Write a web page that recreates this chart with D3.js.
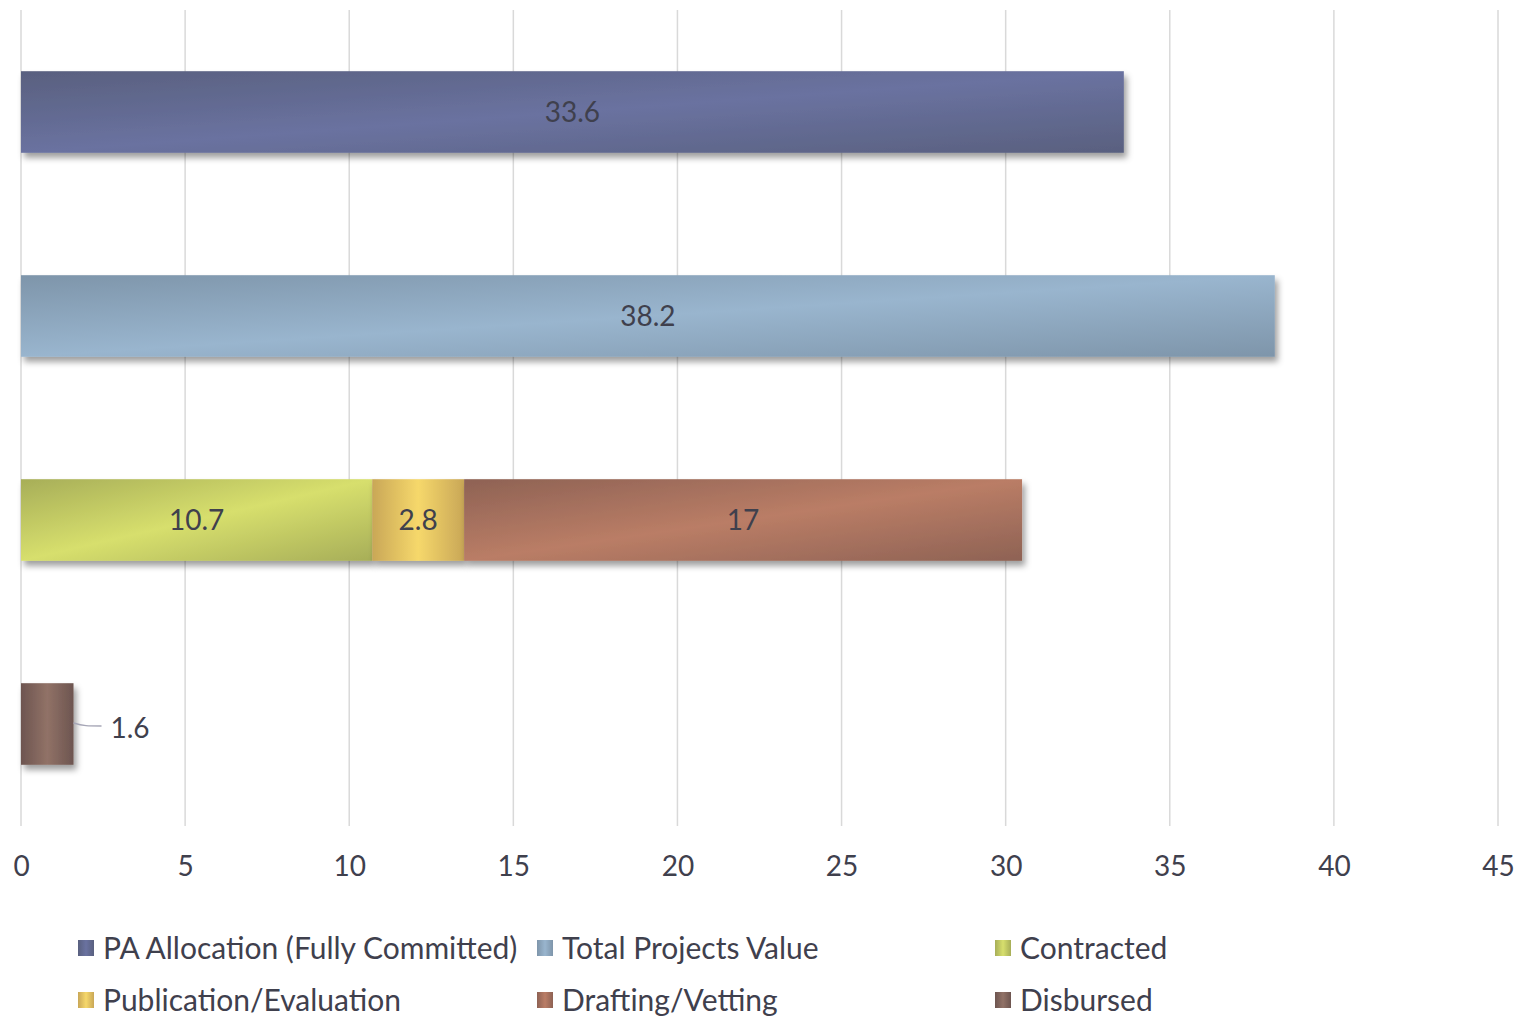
<!DOCTYPE html>
<html>
<head>
<meta charset="utf-8">
<script src="https://cdn.jsdelivr.net/npm/d3@7"></script>
<style>
  html, body { margin: 0; padding: 0; background: #ffffff; }
  svg { display: block; }
  text { font-family: "Lato", "Open Sans", sans-serif; fill: #3f404d; }
</style>
</head>
<body>
<svg id="chart" width="1518" height="1017"></svg>
<script>
// ---- Data ----
const categories = ["PA Allocation", "Total Projects", "Status", "Disbursed"];
const seriesNames = ["PA Allocation (Fully Committed)", "Total Projects Value", "Contracted", "Publication/Evaluation", "Drafting/Vetting", "Disbursed"];
const paAllocation = [33.6, 0, 0, 0];
const totalProjectsValue = [0, 38.2, 0, 0];
const contracted = [0, 0, 10.7, 0];
const publicationEvaluation = [0, 0, 2.8, 0];
const draftingVetting = [0, 0, 17, 0];
const disbursed = [0, 0, 0, 1.6];
const xTicks = [0, 5, 10, 15, 20, 25, 30, 35, 40, 45];

// colours: [dark, light]
const seriesColors = [
  ["#59607f", "#6a72a0"],
  ["#7e95aa", "#99b5ce"],
  ["#a7ae58", "#d7df6d"],
  ["#c9a757", "#f6d86b"],
  ["#8e6254", "#ba7d66"],
  ["#6d5550", "#917267"]
];

const seriesValues = [paAllocation, totalProjectsValue, contracted, publicationEvaluation, draftingVetting, disbursed];

const table = categories.map((c, i) => {
  const row = { category: c };
  seriesNames.forEach((s, j) => row[s] = seriesValues[j][i]);
  return row;
});
const stacked = d3.stack().keys(seriesNames)(table);

// ---- Layout ----
const svg = d3.select("#chart");
const mLeft = 21, mRight = 1498, mTop = 10, mBottom = 826;

const x = d3.scaleLinear().domain([0, 45]).range([mLeft, mRight]);
const y = d3.scaleBand().domain(categories).range([mTop, mBottom]).paddingInner(0.6).paddingOuter(0.3);

const defs = svg.append("defs");
const shadow = defs.append("filter").attr("id", "shadow")
  .attr("x", "-10%").attr("y", "-20%").attr("width", "130%").attr("height", "160%");
shadow.append("feDropShadow").attr("dx", 3).attr("dy", 5).attr("stdDeviation", 3)
  .attr("flood-color", "#000").attr("flood-opacity", 0.38);

seriesColors.forEach((c, i) => {
  const small = (i === 3 || i === 5);
  const g = defs.append("linearGradient").attr("id", "grad" + i)
    .attr("x1", 0).attr("y1", 0).attr("x2", 1).attr("y2", small ? 0 : 1);
  g.append("stop").attr("offset", "0%").attr("stop-color", c[0]);
  g.append("stop").attr("offset", "50%").attr("stop-color", c[1]);
  g.append("stop").attr("offset", "100%").attr("stop-color", c[0]);
  const lg = defs.append("linearGradient").attr("id", "lgrad" + i)
    .attr("x1", 0).attr("y1", 0).attr("x2", 1).attr("y2", 0);
  lg.append("stop").attr("offset", "0%").attr("stop-color", c[0]);
  lg.append("stop").attr("offset", "50%").attr("stop-color", c[1]);
  lg.append("stop").attr("offset", "100%").attr("stop-color", c[0]);
});

// gridlines
svg.append("g").selectAll("line").data(xTicks).join("line")
  .attr("x1", d => x(d)).attr("x2", d => x(d))
  .attr("y1", mTop).attr("y2", mBottom)
  .attr("stroke", "#d9d9d9").attr("stroke-width", 1.5);

// axis
const axis = svg.append("g").attr("transform", `translate(0,${mBottom})`)
  .call(d3.axisBottom(x).tickValues(xTicks).tickSize(0).tickPadding(30));
axis.select(".domain").remove();
axis.selectAll("text").attr("font-size", 28).attr("fill", "#3f404d")
  .style("font-family", "Lato, 'Open Sans', sans-serif");

// bars
const layers = svg.append("g").selectAll("g").data(stacked).join("g")
  .attr("fill", (d, i) => `url(#grad${i})`);

layers.selectAll("rect").data(d => d.map(v => ({ v, key: d.key })).filter(o => o.v.data[o.key] > 0)).join("rect")
  .attr("x", d => x(d.v[0]))
  .attr("width", d => x(d.v[1]) - x(d.v[0]))
  .attr("y", d => y(d.v.data.category))
  .attr("height", y.bandwidth())
  .attr("filter", "url(#shadow)");

// labels
const labelG = svg.append("g");
stacked.forEach((layer) => {
  layer.forEach(v => {
    const val = v.data[layer.key];
    if (!(val > 0)) return;
    const cy = y(v.data.category) + y.bandwidth() / 2;
    const w = x(v[1]) - x(v[0]);
    if (w > 60) {
      labelG.append("text")
        .attr("x", (x(v[0]) + x(v[1])) / 2).attr("y", cy)
        .attr("dy", "0.35em").attr("text-anchor", "middle")
        .attr("font-size", 28).text(val);
    } else {
      const x0 = x(v[1]);
      labelG.append("path")
        .attr("d", `M${x0},${cy - 1} C${x0 + 10},${cy + 2} ${x0 + 14},${cy + 2} ${x0 + 28},${cy + 2}`)
        .attr("fill", "none").attr("stroke", "#a6a6b6").attr("stroke-width", 1.5);
      labelG.append("text")
        .attr("x", x0 + 37).attr("y", cy + 4)
        .attr("dy", "0.35em").attr("text-anchor", "start")
        .attr("font-size", 28).text(val);
    }
  });
});

// legend
const legendCols = [78, 537, 995];
const legendRows = [948, 1000];
const legend = svg.append("g").selectAll("g").data(seriesNames).join("g")
  .attr("transform", (d, i) => `translate(${legendCols[i % 3]},${legendRows[Math.floor(i / 3)]})`);
legend.append("rect").attr("x", 0).attr("y", -8).attr("width", 16).attr("height", 16)
  .attr("fill", (d, i) => `url(#lgrad${i})`);
legend.append("text").attr("x", 25).attr("y", 0).attr("dy", "0.35em")
  .attr("font-size", 30).text(d => d);
</script>
</body>
</html>
